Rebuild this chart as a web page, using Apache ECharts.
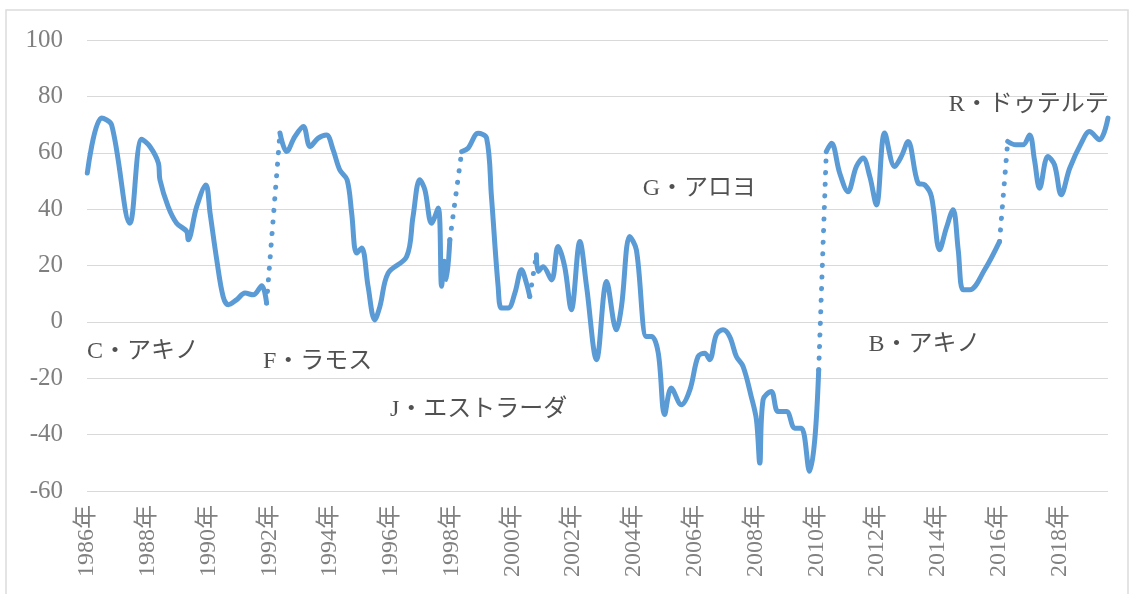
<!DOCTYPE html>
<html>
<head>
<meta charset="utf-8">
<script src="https://cdn.jsdelivr.net/npm/echarts@6/dist/echarts.min.js"></script>
<style>
  html, body { margin: 0; padding: 0; background: #fff; }
  #chart { width: 1134px; height: 594px; }
</style>
</head>
<body>
<div id="chart"></div>
<script>
// Net satisfaction ratings [year, value]
const cAquino = [[1986.01,52.8],[1986.48,72.3],[1986.81,69.9],[1987.41,35.0],[1987.80,64.8],[1988.07,62.2],[1988.35,56.3],[1988.40,50.4],[1988.67,40.9],[1988.95,35.0],[1989.28,32.1],[1989.33,29.1],[1989.61,40.9],[1989.91,48.6],[1990.05,38.6],[1990.27,22.0],[1990.48,9.0],[1990.65,6.1],[1990.92,7.8],[1991.20,10.2],[1991.47,9.6],[1991.75,12.8],[1991.91,6.7]];
const fRamos = [[1992.35,67.0],[1992.57,60.4],[1992.84,65.7],[1993.12,69.3],[1993.34,62.2],[1993.61,65.2],[1993.88,66.3],[1994.10,61.0],[1994.32,53.9],[1994.56,50.4],[1994.71,38.6],[1994.87,24.4],[1995.04,26.2],[1995.25,12.6],[1995.47,0.7],[1995.64,5.5],[1995.91,17.3],[1996.52,23.2],[1996.73,37.4],[1996.95,50.4],[1997.12,46.8],[1997.34,35.0],[1997.56,40.4],[1997.67,12.6],[1997.76,21.5],[1997.83,15.0],[1997.94,29.1]];
const jEstrada = [[1998.33,60.4],[1998.54,61.6],[1998.87,66.9],[1999.15,65.2],[1999.31,44.5],[1999.53,12.6],[1999.64,4.9],[1999.86,4.9],[2000.08,10.2],[2000.30,18.5],[2000.46,13.8],[2000.57,9.0]];
const gArroyo = [[2000.79,23.8],[2000.85,17.9],[2001.01,19.6],[2001.29,14.9],[2001.50,26.7],[2001.72,19.6],[2001.94,4.3],[2002.22,28.5],[2002.44,12.6],[2002.77,-13.4],[2003.10,14.3],[2003.42,-2.8],[2003.59,5.5],[2003.86,30.3],[2004.08,25.5],[2004.41,-5.2],[2004.58,-5.2],[2004.80,-11.1],[2005.01,-32.9],[2005.23,-23.5],[2005.56,-29.4],[2005.84,-24.1],[2006.11,-12.3],[2006.33,-11.1],[2006.49,-13.4],[2006.71,-4.6],[2006.93,-2.8],[2007.15,-5.2],[2007.37,-12.3],[2007.59,-15.8],[2007.86,-26.5],[2008.03,-34.7],[2008.14,-50.1],[2008.25,-27.6],[2008.52,-24.7],[2008.74,-31.8],[2009.02,-31.8],[2009.29,-37.7],[2009.51,-37.7],[2009.78,-53.0],[2009.95,-41.8],[2010.08,-17.0]];
const bAquino = [[2010.33,60.4],[2010.50,63.4],[2010.77,52.8],[2011.04,46.2],[2011.32,55.1],[2011.54,58.1],[2011.76,51.6],[2011.98,41.5],[2012.25,67.0],[2012.58,55.1],[2012.80,58.7],[2013.02,64.0],[2013.35,49.2],[2013.57,48.6],[2013.79,44.5],[2014.06,25.6],[2014.28,33.3],[2014.50,39.8],[2014.67,25.6],[2014.83,11.4],[2015.05,11.4],[2015.54,18.5],[2016.03,28.5]];
const rDuterte = [[2016.30,64.0],[2016.57,62.8],[2016.80,62.8],[2017.02,66.3],[2017.18,57.5],[2017.35,47.4],[2017.62,58.7],[2017.84,55.7],[2018.06,45.1],[2018.34,54.5],[2018.72,63.4],[2018.99,67.5],[2019.32,64.6],[2019.60,72.3]];

const presidents = [cAquino, fRamos, jEstrada, gArroyo, bAquino, rDuterte];
const presidentNames = ['C・アキノ', 'F・ラモス', 'J・エストラーダ', 'G・アロヨ', 'B・アキノ', 'R・ドゥテルテ'];
// annotation anchors (left edge of text) in data units [year, value]
const nameAnchors = [[1986.0,-10.5],[1991.79,-14.0],[1995.97,-31.2],[2004.29,47.4],[2011.72,-8.1],[2014.36,77.0]];

const yMin = -60, yMax = 100, yStep = 20;
const xMin = 1986, xMax = 2019.6, xStep = 2;

const BLUE = '#5B9BD5';
const FONT = "'Liberation Serif', 'Noto Sans CJK JP', serif";

const series = [];
presidents.forEach((seg, i) => {
  series.push({
    type: 'line', data: seg, smooth: 0.35, showSymbol: false, symbol: 'none',
    lineStyle: { color: BLUE, width: 5, cap: 'round', join: 'round' },
    z: 3
  });
  if (i < presidents.length - 1) {
    const next = presidents[i + 1];
    series.push({
      type: 'line', data: [seg[seg.length - 1], next[0]], showSymbol: false, symbol: 'none',
      lineStyle: { color: BLUE, width: 5, type: [0.1, 11.5], cap: 'round' },
      z: 2
    });
  }
});
series.push({
  type: 'scatter', symbolSize: 0,
  data: nameAnchors.map((a, i) => [a[0], a[1], presidentNames[i]]),
  label: {
    show: true, position: 'right', distance: 0,
    formatter: p => p.data[2],
    color: '#262626', fontSize: 24, fontFamily: FONT
  },
  z: 5, silent: true
});

const chart = echarts.init(document.getElementById('chart'));
chart.setOption({
  animation: false,
  backgroundColor: '#fff',
  graphic: [{
    type: 'rect', shape: { x: 6, y: 10, width: 1122, height: 600 },
    style: { fill: 'none', stroke: '#dcdcdc', lineWidth: 1.5 }, silent: true
  }],
  grid: { left: 87, right: 26, top: 40, bottom: 103, containLabel: false },
  xAxis: {
    type: 'value', min: xMin, max: xMax, interval: xStep,
    axisLine: { show: false }, axisTick: { show: false }, splitLine: { show: false },
    axisLabel: {
      rotate: 90, margin: 14, showMaxLabel: false,
      color: '#808080', fontSize: 24, fontFamily: FONT,
      formatter: v => (Math.abs(v % 2) < 1e-6 ? v + '年' : '')
    }
  },
  yAxis: {
    type: 'value', min: yMin, max: yMax, interval: yStep,
    axisLine: { show: false }, axisTick: { show: false },
    splitLine: { lineStyle: { color: '#d9d9d9', width: 1.2 } },
    axisLabel: { margin: 24, color: '#7f7f7f', fontSize: 25, fontFamily: FONT }
  },
  series: series
});
</script>
</body>
</html>
